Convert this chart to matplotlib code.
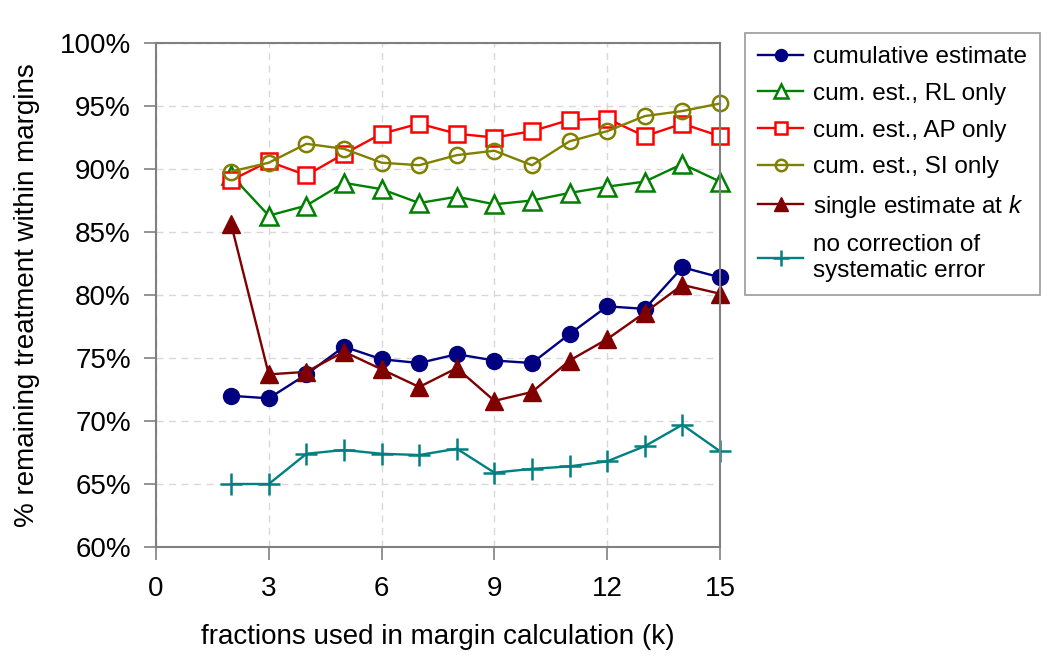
import numpy as np
import matplotlib.pyplot as plt
from matplotlib.ticker import FuncFormatter

plt.rcParams['font.family'] = ['Liberation Sans', 'DejaVu Sans']
plt.rcParams['mathtext.fontset'] = 'custom'
plt.rcParams['mathtext.it'] = 'Liberation Sans:italic'
plt.rcParams['mathtext.rm'] = 'Liberation Sans'

k = np.arange(2, 16)
cumulative = [72.0, 71.8, 73.7, 75.9, 74.9, 74.6, 75.3, 74.8, 74.6, 76.9, 79.1, 78.9, 82.2, 81.4]
rl_only = [89.5, 86.3, 87.1, 88.9, 88.4, 87.3, 87.8, 87.2, 87.5, 88.1, 88.6, 89.0, 90.4, 89.0]
ap_only = [89.1, 90.6, 89.5, 91.2, 92.8, 93.6, 92.8, 92.5, 93.0, 93.9, 94.0, 92.6, 93.6, 92.6]
si_only = [89.8, 90.5, 92.0, 91.6, 90.5, 90.3, 91.1, 91.45, 90.3, 92.2, 93.0, 94.2, 94.6, 95.2]
single = [85.6, 73.7, 73.9, 75.5, 74.1, 72.7, 74.2, 71.6, 72.3, 74.8, 76.5, 78.6, 80.8, 80.1]
no_corr = [65.0, 65.0, 67.4, 67.7, 67.4, 67.3, 67.8, 65.9, 66.2, 66.4, 66.8, 68.0, 69.7, 67.6]

fig = plt.figure(figsize=(10.5, 6.68), dpi=100)
ax = fig.add_axes([156/1050, 1-547/668, (720-156)/1050, (547-43)/668])

lw = 1.7
style = dict(lw=lw, clip_on=False)
ax.plot(k, cumulative, color='#000080', marker='o', ms=11.5, label='cumulative estimate', **style)
ax.plot(k, rl_only, color='#008000', marker='^', ms=13, mfc='white', mew=1.8, label='cum. est., RL only', **style)
ax.plot(k, ap_only, color='#ff0000', marker='s', ms=11, mfc='white', mew=1.8, label='cum. est., AP only', **style)
ax.plot(k, si_only, color='#808000', marker='o', ms=11, mfc='none', mew=1.8, label='cum. est., SI only', **style)
ax.plot(k, single, color='#800000', marker='^', ms=13, label='single estimate at $k$', **style)
ax.plot(k, no_corr, color='#008080', marker='+', ms=16, mew=1.8, label='no correction of\nsystematic error', **style)

ax.set_xlim(0, 15)
ax.set_ylim(60, 100)
ax.set_xticks(np.arange(0, 16, 3))
ax.set_yticks(np.arange(60, 101, 5))
ax.yaxis.set_major_formatter(FuncFormatter(lambda v, p: f'{v:.0f}%'))
ax.grid(True, color='#d8d8d8', ls=(0, (5, 4)), lw=1)
ax.set_axisbelow(True)
for s in ax.spines.values():
    s.set_color('#808080')
    s.set_linewidth(1.5)
ax.tick_params(axis='both', labelsize=20, color='#808080', length=9, width=1.2, direction='out')
ax.tick_params(axis='x', pad=12)
ax.tick_params(axis='y', pad=9)
ax.set_xlabel('fractions used in margin calculation (k)', fontsize=20, labelpad=16)
ax.set_ylabel('% remaining treatment within margins', fontsize=20, labelpad=14)

leg = fig.legend(loc='upper left', bbox_to_anchor=(745/1050, 1-33/668), fontsize=17.5,
                 frameon=True, fancybox=False, edgecolor='#808080', handlelength=1.85,
                 labelspacing=0.6, borderpad=0.55, handletextpad=0.4, borderaxespad=0)
leg.get_frame().set_linewidth(1.2)
for h in leg.legend_handles:
    h.set_markersize(h.get_markersize() * 0.75)

fig.savefig('out.png', dpi=100)
